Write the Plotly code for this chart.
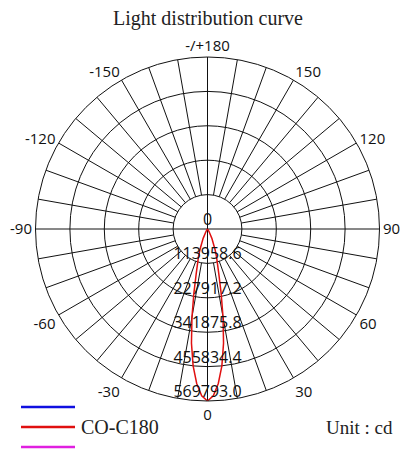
import plotly.graph_objects as go

# candela values, symmetric about 0 deg
angles = [0, 2, 4, 6, 8, 10, 12, 14, 16, 18, 20, 25, 30, 40, 50, 60, 90]
intensity = [569793.0, 552700, 512800, 455800, 381800, 296300, 216500, 156700,
             119600, 96900, 74100, 34200, 11400, 2800, 0, 0, 0]
r_ticks = [0, 113958.6, 227917.2, 341875.8, 455834.4, 569793.0]
r_labels = ["0", "113958.6", "227917.2", "341875.8", "455834.4", "569793.0"]
ang_vals = [0, 30, 60, 90, 120, 150, 180, 210, 240, 270, 300, 330]
ang_text = ["0", "30", "60", "90", "120", "150", "-/+180", "-150", "-120", "-90", "-60", "-30"]

R_MAX = r_ticks[-1]
SERIF = "Liberation Serif, Times New Roman, serif"
SANS = "Open Sans, DejaVu Sans, sans-serif"

# page has an 8px body margin, so work in page pixels minus 8
OFF = 8
W, H = 411 - OFF, 461 - OFF


def px(x):
    return (x - OFF) / W


def py(y):
    return 1 - (y - OFF) / H


# full closed curve: -90 .. 90
theta = [-a for a in angles[::-1]] + angles[1:]
rr = intensity[::-1] + intensity[1:]

fig = go.Figure()

# spokes every 10 deg, starting at the first ring (cardinal ones through centre)
sp_r, sp_t = [], []
for a in range(0, 360, 10):
    start = 0 if a % 90 == 0 else r_ticks[1]
    sp_r += [start, R_MAX, None]
    sp_t += [a, a, None]
fig.add_trace(go.Scatterpolar(r=sp_r, theta=sp_t, mode="lines",
                              line=dict(color="#111", width=1), hoverinfo="skip", showlegend=False))

fig.add_trace(go.Scatterpolar(r=rr, theta=theta, mode="lines",
                              line=dict(color="#e01010", width=1.5), name="CO-C180", showlegend=False))

fig.add_trace(go.Scatterpolar(r=r_ticks, theta=[0] * len(r_ticks), mode="text", text=r_labels,
                              textposition="top center", textfont=dict(family=SANS, size=16, color="#111"),
                              hoverinfo="skip", showlegend=False))

cx, cy, rad = 207.5, 229, 172
fig.update_layout(
    width=W, height=H, margin=dict(l=0, r=0, t=0, b=0),
    paper_bgcolor="white", plot_bgcolor="white",
    polar=dict(
        domain=dict(x=[px(cx - rad), px(cx + rad)], y=[py(cy + rad), py(cy - rad)]),
        bgcolor="white",
        radialaxis=dict(range=[0, R_MAX], tickvals=r_ticks, showticklabels=False, ticks="",
                        gridcolor="#111", gridwidth=1, showline=False),
        angularaxis=dict(rotation=-90, direction="counterclockwise", tickvals=ang_vals, ticktext=ang_text,
                         showgrid=False, ticks="", linecolor="#111", linewidth=1,
                         tickfont=dict(family=SANS, size=15, color="#111")),
    ),
)

fig.add_annotation(text="Light distribution curve", x=px(207.5), y=py(18), xref="paper", yref="paper",
                   xanchor="center", yanchor="middle",
                   showarrow=False, font=dict(family=SERIF, size=20, color="#222"))
fig.add_annotation(text="Unit : cd", x=px(359), y=py(427), xref="paper", yref="paper",
                   xanchor="center", yanchor="middle",
                   showarrow=False, font=dict(family=SERIF, size=19, color="#222"))
fig.add_annotation(text="CO-C180", x=px(79), y=py(427), xref="paper", yref="paper",
                   xanchor="left", yanchor="middle",
                   showarrow=False, font=dict(family=SERIF, size=20, color="#222"))

# legend swatches
for yy, col in [(407, "#1010e0"), (427, "#e01010"), (447, "#e020e0")]:
    fig.add_shape(type="line", xref="paper", yref="paper", x0=px(21), x1=px(75),
                  y0=py(yy), y1=py(yy), line=dict(color=col, width=2.5))

fig.write_html("out.html")
